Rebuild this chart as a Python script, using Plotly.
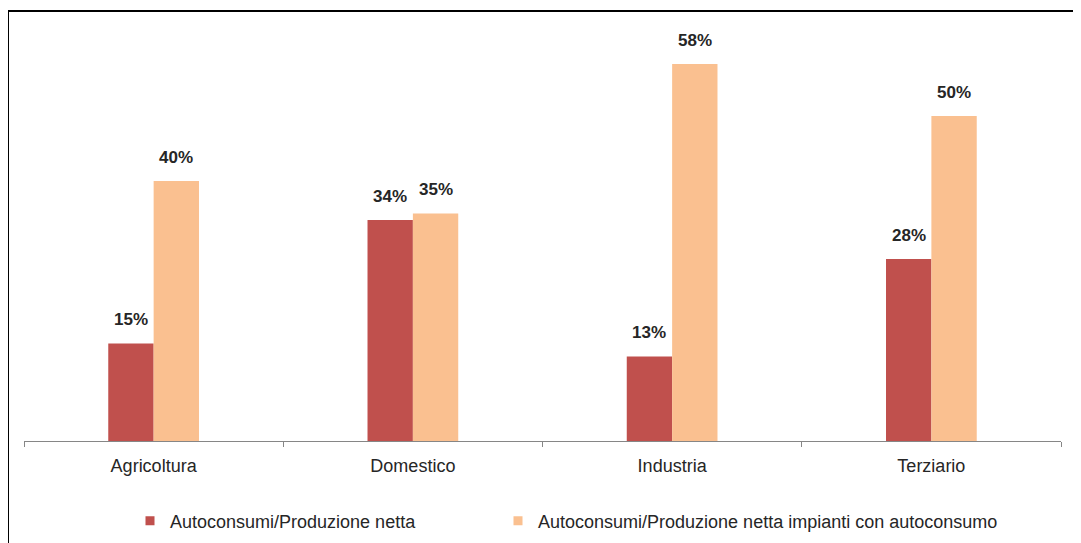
import plotly.graph_objects as go

categories = ["Agricoltura", "Domestico", "Industria", "Terziario"]
series_names = ["Autoconsumi/Produzione netta",
                "Autoconsumi/Produzione netta impianti con autoconsumo"]
autoconsumi_netta = [15, 34, 13, 28]
autoconsumi_impianti = [40, 35, 58, 50]

colors = ["#C0504D", "#FAC090"]
series_values = [autoconsumi_netta, autoconsumi_impianti]

# layout geometry (pixels, figure coordinates; page body adds 8px offset)
W, H = 1073, 535
L, R, T, B = 16, 20, 23, 102
plot_w = W - L - R
plot_h = H - T - B
px_per_unit = 6.5
ymax = plot_h / px_per_unit

bargap = 0.65
bar_w = (1 - bargap) / 2  # in category units
FONT = "Liberation Sans, Arial, sans-serif"
TXT = "#262626"

fig = go.Figure()
legend_refs = ["legend", "legend2"]
for name, vals, col, lg in zip(series_names, series_values, colors, legend_refs):
    fig.add_trace(go.Bar(x=categories, y=vals, name=name, marker_color=col,
                         marker_line_width=0, showlegend=False))
    fig.add_trace(go.Scatter(x=[None], y=[None], mode="markers", name=name,
                             legend=lg,
                             marker=dict(symbol="square", size=9, color=col)))

annotations = []
for si, vals in enumerate(series_values):
    offset = (si - 0.5) * bar_w
    for ci, v in enumerate(vals):
        annotations.append(dict(
            x=ci + offset, y=v, xref="x", yref="y", text=f"<b>{v}%</b>",
            showarrow=False, yanchor="middle", yshift=24,
            font=dict(family=FONT, size=17, color=TXT)))

def px_x(page_x):
    return (page_x - 8 - L) / plot_w

def px_y(page_y):
    return (H - B - (page_y - 8)) / plot_h

legend_y = px_y(521)
fig.update_layout(
    width=W, height=H,
    margin=dict(l=L, r=R, t=T, b=B, autoexpand=False),
    paper_bgcolor="white", plot_bgcolor="white",
    barmode="group", bargap=bargap, bargroupgap=0,
    font=dict(family=FONT, size=18, color=TXT),
    annotations=annotations,
    legend=dict(orientation="h", x=px_x(130), xanchor="left",
                y=legend_y, yanchor="middle",
                font=dict(family=FONT, size=18, color=TXT), itemclick=False),
    legend2=dict(orientation="h", x=px_x(498), xanchor="left",
                 y=legend_y, yanchor="middle",
                 font=dict(family=FONT, size=18, color=TXT), itemclick=False),
    shapes=[
        dict(type="line", xref="paper", yref="paper",
             x0=px_x(8), x1=1.1, y0=px_y(11), y1=px_y(11),
             line=dict(color="black", width=2)),
        dict(type="line", xref="paper", yref="paper",
             x0=px_x(8), x1=px_x(8), y0=px_y(11), y1=-0.5,
             line=dict(color="black", width=2)),
    ],
)
fig.update_xaxes(showline=True, linecolor="#868686", linewidth=1,
                 ticks="outside", tickson="boundaries", ticklen=5, tickcolor="#868686",
                 ticklabelstandoff=8,
                 showgrid=False, tickfont=dict(family=FONT, size=18, color=TXT))
fig.update_yaxes(range=[0, ymax], visible=False, showgrid=False)

fig.write_html("out.html")
